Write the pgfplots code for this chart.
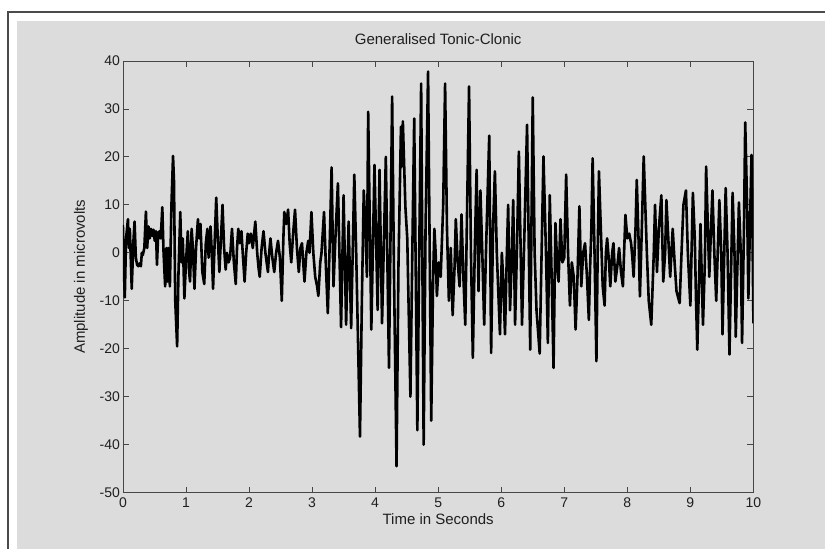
\documentclass[border=0pt]{standalone}
\usepackage{fontspec}
\setmainfont{Liberation Sans}
\usepackage{pgfplots}
\pgfplotsset{compat=1.18}
\usepackage{pgfplotstable}

\definecolor{figgray}{RGB}{220,220,220}
\definecolor{framegray}{RGB}{75,75,75}
\definecolor{axgray}{RGB}{70,70,70}

% EEG trace, 0--10 s, amplitude in microvolts
\pgfplotstableread{
t v
0.000 5.8
0.012 -2
0.030 -9.3
0.050 3
0.080 7.0
0.095 1
0.110 5
0.140 -7.5
0.165 2
0.185 6.5
0.205 -1
0.225 -2.5
0.245 -2.8
0.265 -2.2
0.285 -2.8
0.300 0
0.315 -0.5
0.340 1
0.365 8.6
0.385 1
0.405 5.5
0.425 3
0.445 5
0.465 3.5
0.485 4.8
0.505 2.5
0.525 4.5
0.540 -2.5
0.560 4
0.580 4.5
0.600 3
0.625 9.5
0.645 0
0.670 -7
0.690 1
0.705 -6
0.720 1
0.745 -7
0.770 10
0.795 20.2
0.810 15
0.830 -10
0.860 -19.5
0.880 -5
0.910 8.5
0.930 -2
0.950 3
0.975 -9.5
1.000 -2
1.030 4.5
1.050 -4
1.065 -6
1.090 5
1.110 1
1.135 -7.5
1.160 1
1.190 7
1.210 3
1.230 6
1.260 -4
1.290 -6.5
1.315 2
1.340 5
1.360 -1
1.390 5.5
1.410 0
1.430 -7.5
1.455 2
1.480 11.5
1.505 3
1.530 -4
1.555 3
1.580 10
1.605 1
1.630 -3.5
1.650 0
1.675 -2
1.700 -1
1.730 5
1.760 -2
1.790 -6.5
1.810 1
1.830 5
1.855 2
1.880 4.5
1.905 -1
1.930 -6
1.955 0
1.980 4
2.000 2
2.030 4
2.060 1
2.100 6.5
2.130 0
2.150 -3
2.170 -5
2.200 1
2.230 4.5
2.260 0
2.300 -4
2.320 0
2.340 3
2.370 -1
2.400 -4
2.430 0
2.460 2.5
2.490 -1
2.520 -10
2.545 3
2.560 8.5
2.590 6
2.620 9
2.645 2
2.670 -2
2.700 4
2.730 9
2.760 1
2.790 -4
2.815 1
2.840 2
2.860 -2
2.880 -6
2.910 0
2.940 2.5
2.960 0
2.990 8.5
3.020 0
3.050 -5
3.080 -7
3.100 -9
3.130 -2
3.150 0
3.190 8.5
3.220 -3
3.250 -12.6
3.280 2
3.310 17.8
3.340 -7
3.370 3
3.410 14.5
3.460 -15.5
3.500 12
3.540 -15
3.580 6.5
3.620 -15.7
3.670 16.3
3.700 0
3.760 -38.3
3.790 -10
3.820 13
3.850 4
3.870 -5
3.890 29.4
3.940 -16
3.990 18.3
4.040 -11.9
4.070 17.3
4.110 -14.7
4.170 20
4.220 -24
4.270 32.6
4.300 -5
4.340 -44.5
4.370 -3
4.410 26.3
4.425 18
4.440 27.4
4.480 9.7
4.510 3
4.560 -30
4.590 0
4.620 28
4.670 -37
4.700 0
4.730 35.3
4.770 -40
4.800 5
4.840 37.8
4.890 -35
4.920 -5
4.940 5
4.960 0
4.980 -9
5.010 -2
5.040 -5
5.080 10
5.110 35.3
5.140 5
5.170 -10
5.200 1
5.230 -13
5.260 -3
5.280 7
5.310 -2
5.340 -7
5.370 8
5.400 -5
5.430 -15
5.460 10
5.490 34.7
5.520 0
5.550 -21.9
5.580 0
5.610 17.3
5.640 -8
5.670 13
5.700 0
5.730 -15
5.760 1
5.810 24.4
5.840 -20.9
5.870 5
5.900 17
5.930 0
5.980 -17
6.010 0
6.030 -5
6.060 -17
6.090 0
6.110 10
6.140 -12
6.170 0
6.190 11
6.220 -15
6.250 1
6.280 21.1
6.330 -15
6.370 5
6.410 26.7
6.460 -20.2
6.500 32.4
6.530 0
6.560 -12
6.610 -21
6.670 20.1
6.710 0
6.740 -18.8
6.770 12
6.800 -5
6.830 -24
6.860 6.2
6.890 -3
6.910 -6
6.940 7
6.970 -2
7.000 -1
7.030 16.3
7.060 0
7.090 -11
7.120 -2
7.150 -5
7.180 -16
7.210 -5
7.240 9.7
7.270 -7
7.300 0
7.330 2
7.360 -5
7.390 -14
7.410 -3
7.430 5
7.450 19.7
7.480 0
7.510 -22.6
7.530 0
7.550 17
7.580 5
7.610 -7
7.640 -11
7.660 0
7.680 3
7.710 -2
7.730 -7
7.760 0
7.780 2
7.810 -6
7.840 -3
7.870 1
7.900 -4
7.930 -7
7.970 7.9
8.000 3
8.030 4
8.060 2
8.080 -1
8.100 -5
8.130 5
8.150 15.2
8.180 2
8.200 -9.1
8.230 5
8.260 20.1
8.290 8
8.310 0
8.340 -10
8.380 -15
8.420 0
8.440 10
8.470 -4
8.500 5
8.540 12
8.570 -6
8.600 0
8.620 11
8.650 3
8.680 -5
8.700 0
8.720 5
8.750 -2
8.780 -8
8.830 -10.5
8.860 0
8.890 10
8.930 13
8.960 0
9.000 -11
9.040 12.5
9.070 3
9.090 -10
9.110 -20.2
9.160 6
9.200 -15
9.230 -2
9.250 18
9.300 -5
9.350 13
9.380 0
9.410 -10
9.460 11
9.490 0
9.510 -17
9.560 13.5
9.590 0
9.620 -21.2
9.670 12.5
9.700 0
9.720 -17.5
9.770 10.5
9.800 0
9.820 -18.8
9.850 5
9.870 27.2
9.900 10
9.920 -9.5
9.970 20.4
9.985 5
10.000 -14.7
}\eegdata

\begin{document}
\begin{tikzpicture}[x=1pt,y=1pt]
  % figure window: white margin, dark frame on top and left, grey face
  \fill[white] (0,0) rectangle (826,549);
  \fill[figgray] (17,0) rectangle (826,528);
  \draw[framegray, line width=1.3pt] (8,0) -- (8,537) -- (826,537);
  \begin{axis}[
    at={(123pt,56pt)}, anchor=south west,
    scale only axis, width=631pt, height=432pt,
    xmin=0, xmax=10, ymin=-50, ymax=40,
    xtick={0,1,...,10}, ytick={-50,-40,...,40},
    axis background/.style={fill=figgray},
    axis line style={axgray, line width=0.8pt},
    every tick/.style={axgray, line width=0.8pt},
    major tick length=6pt, tick align=inside,
    /pgf/number format/assume math mode=true,
    ticklabel style={font=\fontsize{14}{16}\selectfont, text=black!88},
    xticklabel style={yshift=-2pt},
    yticklabel style={xshift=0.5pt},
    title={Generalised Tonic-Clonic},
    title style={at={(axis description cs:0.5,1.037)}, anchor=center,
      font=\fontsize{15}{17}\selectfont, text=black!88},
    xlabel={Time in Seconds},
    xlabel style={at={(axis description cs:0.5,-0.0625)}, anchor=center,
      font=\fontsize{15}{17}\selectfont, text=black!88},
    ylabel={Amplitude in microvolts},
    ylabel style={at={(axis description cs:-0.0666,0.5)}, anchor=center,
      rotate=0, font=\fontsize{15}{17}\selectfont, text=black!88},
  ]
    \addplot[black, line width=2.6pt, line join=round, mark=none]
      table[x=t, y=v] {\eegdata};
  \end{axis}
\end{tikzpicture}
\end{document}
